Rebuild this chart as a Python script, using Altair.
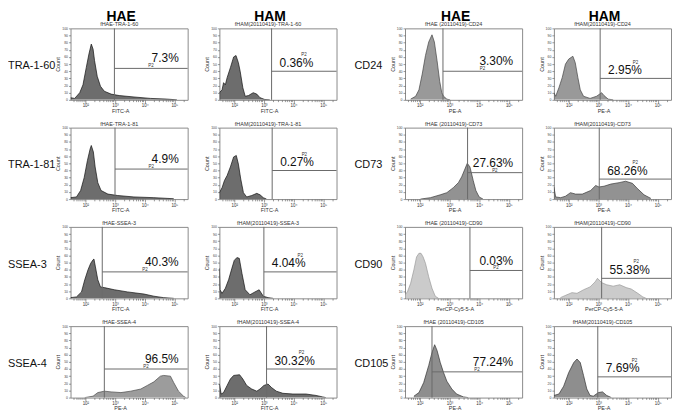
import math
import pandas as pd
import altair as alt

FONT = "Liberation Sans"
W, H = 118, 72
XMIN, XMAX = 1.5, 5.45

# ---------------- data (log10 fluorescence, relative count) ----------------
TRA160_HAE_X = [1.50, 1.64, 1.81, 1.92, 2.03, 2.12, 2.20, 2.26, 2.31, 2.40, 2.51, 2.64, 2.87, 3.14, 3.64, 4.20, 4.76, 5.09]
TRA160_HAE_Y = [3, 2, 10, 21, 45, 64, 78, 71, 55, 33, 19, 12, 8, 6, 4, 2, 1, 0]
TRA160_HAM_X = [1.50, 1.59, 1.64, 1.70, 1.76, 1.87, 1.98, 2.06, 2.14, 2.20, 2.29, 2.37, 2.48, 2.64, 2.76, 2.87, 3.03, 3.20]
TRA160_HAM_Y = [10, 14, 24, 21, 31, 45, 60, 62, 52, 40, 17, 5, 6, 10, 8, 3, 0.5, 0]

TRA181_HAE_X = [1.50, 1.70, 1.84, 1.96, 2.07, 2.16, 2.20, 2.27, 2.33, 2.42, 2.53, 2.76, 3.09, 3.64, 4.31, 4.98]
TRA181_HAE_Y = [2, 3, 12, 30, 54, 70, 75, 66, 45, 23, 12, 7, 5, 3, 2, 0.5]
TRA181_HAM_X = [1.50, 1.59, 1.67, 1.76, 1.87, 1.98, 2.07, 2.14, 2.22, 2.31, 2.42, 2.59, 2.76, 2.87, 2.98, 3.09]
TRA181_HAM_Y = [9, 16, 26, 33, 45, 59, 61, 49, 28, 9, 3, 5, 8, 6, 2, 0]

SSEA3_HAE_X = [1.50, 1.70, 1.87, 1.98, 2.09, 2.18, 2.26, 2.29, 2.34, 2.42, 2.51, 2.64, 2.98, 3.42, 3.98, 4.31, 4.64, 4.98]
SSEA3_HAE_Y = [1, 2, 9, 26, 40, 49, 54, 55, 44, 26, 16, 15, 12, 9, 6, 3, 1, 0]
SSEA3_HAM_X = [1.50, 1.52, 1.59, 1.70, 1.81, 1.92, 2.00, 2.09, 2.17, 2.26, 2.37, 2.53, 2.70, 2.84, 2.98, 3.14, 3.31]
SSEA3_HAM_Y = [42, 12, 7, 14, 26, 42, 53, 57, 56, 35, 12, 5, 9, 12, 3, 1, 0]

SSEA4_HAE_X = [1.98, 2.26, 2.42, 2.64, 2.87, 3.20, 3.53, 3.87, 4.09, 4.31, 4.53, 4.64, 4.87, 4.98, 5.14, 5.31, 5.39]
SSEA4_HAE_Y = [0, 2, 7, 9, 8, 7, 9, 12, 17, 22, 30, 31, 30, 21, 9, 2, 0]
SSEA4_HAM_X = [1.50, 1.56, 1.64, 1.76, 1.87, 1.98, 2.18, 2.29, 2.42, 2.59, 2.76, 2.87, 3.00, 3.14, 3.26, 3.42, 3.64, 3.98, 4.42, 4.76, 4.98, 5.09]
SSEA4_HAM_Y = [19, 5, 7, 17, 26, 31, 32, 26, 17, 12, 9, 12, 17, 19, 14, 9, 6, 5, 5, 3, 1, 0]

CD24_HAE_X = [1.69, 1.86, 1.97, 2.08, 2.19, 2.30, 2.41, 2.49, 2.58, 2.67, 2.74, 2.80, 2.91, 3.02]
CD24_HAE_Y = [1, 5, 14, 36, 62, 81, 91, 81, 55, 26, 10, 5, 1, 0]
CD24_HAM_X = [1.50, 1.56, 1.67, 1.78, 1.89, 2.00, 2.14, 2.22, 2.31, 2.39, 2.50, 2.72, 2.94, 3.11, 3.19, 3.33, 3.50]
CD24_HAM_Y = [10, 5, 17, 31, 50, 57, 61, 52, 31, 14, 5, 2, 5, 10, 6, 1, 0]

CD73_HAE_X = [2.02, 2.36, 2.69, 2.91, 3.13, 3.30, 3.41, 3.52, 3.60, 3.69, 3.80, 3.89, 4.00, 4.13]
CD73_HAE_Y = [0, 2, 6, 9, 16, 23, 31, 42, 50, 45, 26, 12, 3, 0]
CD73_HAM_X = [1.50, 1.56, 1.73, 1.89, 2.06, 2.23, 2.46, 2.74, 2.91, 3.02, 3.19, 3.42, 3.70, 3.92, 4.15, 4.31, 4.54, 4.77]
CD73_HAM_Y = [17, 3, 2, 4, 9, 7, 7, 12, 19, 17, 18, 21, 23, 25, 22, 15, 6, 1]

CD90_HAE_X = [1.50, 1.58, 1.69, 1.80, 1.89, 1.97, 2.04, 2.11, 2.19, 2.30, 2.41, 2.52, 2.63]
CD90_HAE_Y = [5, 9, 21, 40, 58, 63, 63, 58, 49, 30, 14, 3, 0]
CD90_HAM_X = [1.72, 1.94, 2.11, 2.28, 2.50, 2.72, 2.89, 2.97, 3.11, 3.28, 3.50, 3.72, 3.94, 4.11, 4.33, 4.50, 4.61]
CD90_HAM_Y = [1, 5, 8, 7, 12, 16, 23, 28, 22, 19, 17, 19, 15, 13, 7, 2, 0]

CD105_HAE_X = [1.80, 1.97, 2.13, 2.30, 2.41, 2.50, 2.58, 2.69, 2.80, 2.91, 3.08, 3.24, 3.47, 3.63]
CD105_HAE_Y = [2, 7, 21, 45, 63, 74, 66, 49, 35, 23, 12, 5, 1, 0]
CD105_HAM_X = [1.50, 1.67, 1.83, 2.00, 2.17, 2.28, 2.39, 2.50, 2.61, 2.72, 2.83, 3.00, 3.14, 3.28, 3.44]
CD105_HAM_Y = [3, 5, 16, 35, 49, 54, 49, 31, 12, 3, 2, 7, 8, 3, 0]

# gates: vertical threshold (log10) and horizontal marker level, percentages
GATE_X = {
    "TRA160": (2.98, 3.26), "TRA181": (3.00, 3.28), "SSEA3": (2.57, 3.00), "SSEA4": (2.64, 3.09),
    "CD24": (2.78, 3.06), "CD73": (3.61, 3.03), "CD90": (3.69, 3.11), "CD105": (2.41, 2.98),
}
GATE_Y = {
    "TRA160": (44, 40), "TRA181": (42, 40), "SSEA3": (37, 37), "SSEA4": (40, 40),
    "CD24": (40, 30), "CD73": (37, 28), "CD90": (39, 28), "CD105": (36, 29),
}
PCT = {
    "TRA160": ("7.3%", "0.36%"), "TRA181": ("4.9%", "0.27%"), "SSEA3": ("40.3%", "4.04%"),
    "SSEA4": ("96.5%", "30.32%"), "CD24": ("3.30%", "2.95%"), "CD73": ("27.63%", "68.26%"),
    "CD90": ("0.03%", "55.38%"), "CD105": ("77.24%", "7.69%"),
}
ROW_LABELS = {"TRA160": "TRA-1-60", "TRA181": "TRA-1-81", "SSEA3": "SSEA-3", "SSEA4": "SSEA-4",
              "CD24": "CD24", "CD73": "CD73", "CD90": "CD90", "CD105": "CD105"}
TITLES = {
    "TRA160": ("fHAE-TRA-1-60", "fHAM(20110419)-TRA-1-60"),
    "TRA181": ("fHAE-TRA-1-81", "fHAM(20110419)-TRA-1-81"),
    "SSEA3": ("fHAE-SSEA-3", "fHAM(20110419)-SSEA-3"),
    "SSEA4": ("fHAE-SSEA-4", "fHAM(20110419)-SSEA-4"),
    "CD24": ("fHAE (20110419)-CD24", "fHAM(20110419)-CD24"),
    "CD73": ("fHAE (20110419)-CD73", "fHAM(20110419)-CD73"),
    "CD90": ("fHAE (20110419)-CD90", "fHAM(20110419)-CD90"),
    "CD105": ("fHAE (20110419)-CD105", "fHAM(20110419)-CD105"),
}
XTITLES = {
    "TRA160": ("FITC-A", "FITC-A"), "TRA181": ("FITC-A", "FITC-A"), "SSEA3": ("FITC-A", "FITC-A"),
    "SSEA4": ("PE-A", "FITC-A"), "CD24": ("PE-A", "PE-A"), "CD73": ("PE-A", "PE-A"),
    "CD90": ("PerCP-Cy5-5-A", "PerCP-Cy5-5-A"), "CD105": ("PE-A", "PE-A"),
}
HEADERS = ["HAE", "HAM"]
HIST = {
    "TRA160": ((TRA160_HAE_X, TRA160_HAE_Y), (TRA160_HAM_X, TRA160_HAM_Y)),
    "TRA181": ((TRA181_HAE_X, TRA181_HAE_Y), (TRA181_HAM_X, TRA181_HAM_Y)),
    "SSEA3": ((SSEA3_HAE_X, SSEA3_HAE_Y), (SSEA3_HAM_X, SSEA3_HAM_Y)),
    "SSEA4": ((SSEA4_HAE_X, SSEA4_HAE_Y), (SSEA4_HAM_X, SSEA4_HAM_Y)),
    "CD24": ((CD24_HAE_X, CD24_HAE_Y), (CD24_HAM_X, CD24_HAM_Y)),
    "CD73": ((CD73_HAE_X, CD73_HAE_Y), (CD73_HAM_X, CD73_HAM_Y)),
    "CD90": ((CD90_HAE_X, CD90_HAE_Y), (CD90_HAM_X, CD90_HAM_Y)),
    "CD105": ((CD105_HAE_X, CD105_HAE_Y), (CD105_HAM_X, CD105_HAM_Y)),
}
COLORS = {
    "TRA160": (("#2f2f2f", "#111111"), ("#2f2f2f", "#111111")),
    "TRA181": (("#2f2f2f", "#111111"), ("#2f2f2f", "#111111")),
    "SSEA3": (("#2f2f2f", "#111111"), ("#2f2f2f", "#111111")),
    "SSEA4": (("#727272", "#4a4a4a"), ("#2f2f2f", "#111111")),
    "CD24": (("#6e6e6e", "#444444"), ("#6e6e6e", "#444444")),
    "CD73": (("#646464", "#3a3a3a"), ("#646464", "#3a3a3a")),
    "CD90": (("#b5b5b5", "#9a9a9a"), ("#b5b5b5", "#9a9a9a")),
    "CD105": (("#5e5e5e", "#333333"), ("#5e5e5e", "#333333")),
}
LEFT_ROWS = ["TRA160", "TRA181", "SSEA3", "SSEA4"]
RIGHT_ROWS = ["CD24", "CD73", "CD90", "CD105"]

# ---------------- axes ----------------
x_ticks = []
for e in range(1, 6):
    for m in range(1, 10):
        v = e if m == 1 else math.log10(m) + e
        if XMIN <= v <= XMAX:
            x_ticks.append(round(v, 5))

x_scale = alt.Scale(domain=[XMIN, XMAX], nice=False, zero=False)
y_scale = alt.Scale(domain=[0, 100], nice=False)
major = "abs(datum.value - round(datum.value)) < 0.001"
label_expr = (f"{major} ? '10' + (round(datum.value) == 2 ? '²' : round(datum.value) == 3 ? '³' : "
              "round(datum.value) == 4 ? '⁴' : '⁵') : ''")


def x_axis(title):
    return alt.Axis(values=x_ticks, labelExpr=label_expr, labelFontSize=4.5, labelOverlap=False,
                    labelPadding=0, labelColor="#333", tickColor="#555", tickWidth=0.6,
                    tickSize={"condition": {"test": major, "value": 3}, "value": 1.8},
                    domain=False, grid=False, title=title, titleFontSize=5.5,
                    titleFontWeight="normal", titlePadding=1, titleX=50, titleColor="#333")


y_axis = alt.Axis(values=list(range(0, 101, 10)), labelFontSize=3.5, labelColor="#444",
                  tickColor="#555", tickWidth=0.6, tickSize=2, labelPadding=1, domain=False,
                  grid=False, title="Count", titleFontSize=5.5, titleFontWeight="normal",
                  titlePadding=1, titleColor="#333")


def panel(key, side, header=False):
    hx, hy = HIST[key][side]
    fill, edge = COLORS[key][side]
    gx = GATE_X[key][side]
    gy = GATE_Y[key][side]
    pct = PCT[key][side]
    hist = pd.DataFrame({"x": hx, "y": hy})
    gate = pd.DataFrame({"gx": [gx], "gy": [gy], "pct": [pct], "mid": [(gx + XMAX) / 2], "p": ["P2"],
                         "title": [TITLES[key][side]], "h": [HEADERS[side]]})

    X = lambda f: alt.X(f, type="quantitative", scale=x_scale, axis=x_axis(XTITLES[key][side]))
    Y = lambda f: alt.Y(f, type="quantitative", scale=y_scale, axis=y_axis)

    area = alt.Chart(hist).mark_area(color=fill, line={"color": edge, "strokeWidth": 0.7},
                                     interpolate="linear", clip=True).encode(x=X("x"), y=Y("y"))
    base = alt.Chart(gate)
    vrule = base.mark_rule(color="#6a6a6a", strokeWidth=1).encode(x=X("gx"))
    hrule = base.mark_rule(color="#6a6a6a", strokeWidth=1).encode(x=X("gx"), x2=alt.value(W), y=Y("gy"))
    if side == 0:
        txt = base.mark_text(align="right", baseline="alphabetic", dy=-6, fontSize=12,
                             font=FONT, color="#111").encode(x=alt.value(W - 9), y=Y("gy"), text="pct:N")
        p2 = base.mark_text(align="center", baseline="alphabetic", dy=-1, fontSize=4.5,
                            font=FONT, color="#333").encode(x=X("mid"), y=Y("gy"), text="p:N")
    else:
        txt = base.mark_text(align="left", baseline="alphabetic", dx=8, dy=-4.5, fontSize=12,
                             font=FONT, color="#111").encode(x=X("gx"), y=Y("gy"), text="pct:N")
        p2 = base.mark_text(align="center", baseline="alphabetic", dy=-15, fontSize=4.5,
                            font=FONT, color="#333").encode(x=X("mid"), y=Y("gy"), text="p:N")
    ttl = base.mark_text(align="center", baseline="alphabetic", fontSize=5.5, font=FONT,
                         color="#333").encode(x=alt.value(W / 2 - 10), y=alt.value(-2), text="title:N")
    layers = [area, vrule, hrule, txt, p2, ttl]
    if header:
        hdr = base.mark_text(align="center", baseline="alphabetic", fontSize=14, fontWeight="bold",
                             font=FONT, color="#000").encode(x=alt.value(W / 2 - 8), y=alt.value(-7),
                                                             text="h:N")
        layers.append(hdr)

    return alt.layer(*layers).properties(
        width=W, height=H,
        view=alt.ViewBackground(stroke="#8a8a8a", strokeWidth=1, fill="white"))


def label(text, width, xoff):
    return alt.Chart(pd.DataFrame({"t": [text]})).mark_text(
        align="left", baseline="middle", fontSize=11, font=FONT, color="#111"
    ).encode(x=alt.value(xoff), y=alt.value(H / 2 + 2), text="t:N").properties(
        width=width, height=H, view=alt.ViewBackground(strokeOpacity=0))


cells = []
for i, (lk, rk) in enumerate(zip(LEFT_ROWS, RIGHT_ROWS)):
    cells.append(label(ROW_LABELS[lk], 31, 0))
    cells.append(panel(lk, 0, i == 0))
    cells.append(panel(lk, 1, i == 0))
    cells.append(label(ROW_LABELS[rk], 5, -14))
    cells.append(panel(rk, 0, i == 0))
    cells.append(panel(rk, 1, i == 0))

chart = alt.ConcatChart(
    concat=cells, columns=6, spacing={"row": 28, "column": 32}, bounds="flush"
).properties(padding=0).configure(font=FONT)

chart.save("out.html", embed_options={"renderer": "svg", "actions": False})
